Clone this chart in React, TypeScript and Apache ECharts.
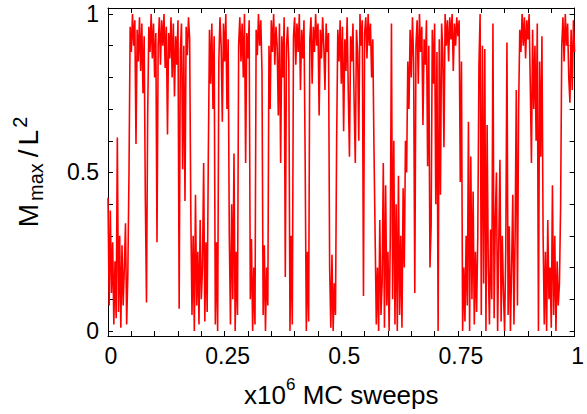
import React, { useEffect, useRef } from "react";
import * as echarts from "echarts";

// Sweep step between successive samples (in units of 10^6 MC sweeps)
const SWEEP_STEP = 0.0025;

// Mmax/L^2, one value per sample
const magnetization: number[] = [
  0.42, 0.08, 0.38, 0.12, 0.28, 0.02, 0.22, 0.04, 0.61, 0.06,
  0.3, 0.01, 0.27, 0.08, 0.2, 0.34, 0.02, 0.18, 0.5, 0.96,
  0.88, 1.0, 0.9, 0.98, 0.59, 0.95, 0.85, 0.99, 0.82, 0.97,
  0.75, 0.93, 0.42, 0.09, 0.68, 0.96, 0.88, 1.0, 0.86, 0.97,
  0.8, 0.94, 0.28, 0.9, 0.99, 0.84, 0.98, 0.9, 1.0, 0.83,
  0.96, 0.62, 0.94, 0.86, 0.99, 0.8, 0.97, 0.74, 0.93, 0.84,
  0.98, 0.07, 0.88, 0.97, 0.51, 0.9, 0.41, 0.96, 0.87, 0.99,
  0.92, 0.37, 0.05, 0.3, 0.0, 0.43, 0.08, 0.25, 0.02, 0.35,
  0.1, 0.2, 0.53, 0.03, 0.28, 0.06, 0.55, 0.95, 0.78, 0.97,
  0.7, 0.93, 0.02, 0.28, 0.0, 0.85, 0.99, 0.9, 0.66, 0.97,
  0.85, 1.0, 0.7, 0.92, 0.3, 0.02, 0.4, 0.1, 0.56, 0.0,
  0.25, 0.05, 0.9, 0.99, 0.85, 0.97, 0.8, 1.0, 0.53, 0.94,
  0.86, 0.98, 0.1, 0.29, 0.0, 0.2, 0.02, 0.95, 0.87, 1.0,
  0.9, 0.98, 0.82, 0.05, 0.27, 0.0, 0.2, 0.08, 0.9, 0.7,
  0.98, 0.88, 1.0, 0.84, 0.96, 0.9, 0.68, 0.97, 0.53, 0.93,
  0.8, 0.99, 0.17, 0.9, 0.96, 0.85, 0.0, 0.3, 0.02, 0.93,
  0.99, 0.84, 0.97, 0.88, 1.0, 0.76, 0.95, 0.86, 0.98, 0.55,
  0.0, 0.25, 0.03, 0.92, 0.99, 0.78, 0.96, 0.88, 1.0, 0.9,
  0.97, 0.68, 0.95, 0.86, 0.99, 0.9, 0.76, 0.97, 0.88, 0.94,
  0.2, 0.01, 0.24, 0.0, 0.15, 0.05, 0.6, 0.95, 0.85, 0.98,
  0.78, 0.96, 0.63, 0.92, 0.82, 0.99, 0.75, 0.55, 0.93, 0.85,
  0.97, 0.72, 0.53, 0.95, 0.88, 0.6, 1.0, 0.9, 0.98, 0.11,
  0.94, 0.99, 0.86, 1.0, 0.9, 0.97, 0.8, 0.92, 0.58, 0.3,
  0.02, 0.2, 0.0, 0.35, 0.05, 0.15, 0.53, 0.01, 0.46, 0.08,
  0.25, 0.0, 0.3, 0.97, 0.1, 0.6, 0.02, 0.4, 0.0, 0.49,
  0.05, 0.3, 0.01, 0.45, 0.2, 0.6, 0.5, 0.85, 0.7, 0.95,
  0.8, 0.99, 0.85, 0.12, 0.9, 0.98, 0.78, 1.0, 0.88, 0.96,
  0.65, 0.92, 0.84, 0.98, 0.52, 0.9, 0.2, 0.33, 0.95, 0.78,
  0.97, 0.4, 0.88, 0.0, 0.92, 0.43, 0.97, 0.88, 0.58, 1.0,
  0.9, 0.98, 0.85, 0.99, 0.92, 1.0, 0.82, 0.97, 0.9, 0.99,
  0.93, 0.98, 0.47, 0.85, 0.0, 0.2, 0.03, 0.3, 0.08, 0.66,
  0.0, 0.55, 0.1, 0.44, 0.02, 0.25, 0.06, 0.3, 0.84, 1.0,
  0.05, 0.9, 0.15, 0.89, 0.0, 0.65, 0.2, 0.02, 0.32, 0.1,
  0.97, 0.04, 0.35, 0.5, 0.0, 0.28, 0.54, 0.03, 0.3, 0.12,
  0.0, 0.26, 0.91, 0.05, 0.33, 0.0, 0.2, 0.43, 0.02, 0.3,
  0.76, 0.08, 0.7, 0.95, 0.88, 1.0, 0.9, 0.99, 0.86, 0.98,
  0.92, 1.0, 0.78, 0.53, 0.95, 0.7, 0.9, 0.6, 0.97, 0.0,
  0.85, 0.55, 0.93, 0.3, 0.02, 0.25, 0.0, 0.35, 0.1, 0.2,
  0.01, 0.46, 0.05, 0.3, 0.0, 0.22, 0.08, 0.15, 0.39, 0.9,
  0.99, 0.85, 1.0, 0.9, 0.97, 0.8, 0.72, 0.95, 0.76, 0.98,
  0.88,
];

const xTickLabels = [0, 0.25, 0.5, 0.75, 1];
const xTickMarks = [
  0, 0.05, 0.1, 0.15, 0.2, 0.25, 0.3, 0.35, 0.4, 0.45, 0.5,
  0.55, 0.6, 0.65, 0.7, 0.75, 0.8, 0.85, 0.9, 0.95, 1,
];
const yTickLabels = [0, 0.5, 1];
const yTickMarks = [0, 0.1, 0.2, 0.3, 0.4, 0.5, 0.6, 0.7, 0.8, 0.9, 1];

const FONT = "'Liberation Sans', Arial, Helvetica, sans-serif";

export default function App() {
  const ref = useRef<HTMLDivElement>(null);

  useEffect(() => {
    if (!ref.current) return;
    const chart = echarts.init(ref.current, undefined, { renderer: "svg" });

    const data = magnetization.map((v, i) => [i * SWEEP_STEP, v]);

    const lineStyle = { color: "#000", width: 1 };
    const tickStyle = { color: "#000", width: 1 };

    const yName = (size: number, valign: string, pad: number[]) => ({
      fontSize: size,
      fontFamily: FONT,
      color: "#000",
      lineHeight: 36,
      verticalAlign: valign,
      padding: pad,
    });

    chart.setOption({
      animation: false,
      backgroundColor: "#fff",
      grid: { left: 108, right: 5, top: 8, bottom: 78, containLabel: false },
      xAxis: [
        {
          type: "value",
          min: 0,
          max: 1,
          position: "bottom",
          axisLine: { show: true, onZero: false, lineStyle },
          axisTick: {
            show: true,
            inside: true,
            length: 5,
            customValues: xTickMarks,
            lineStyle: tickStyle,
          },
          axisLabel: {
            customValues: xTickLabels,
            showMinLabel: true,
            showMaxLabel: true,
            fontSize: 23,
            fontFamily: FONT,
            color: "#000",
            margin: 8,
            padding: [0, 0, 0, 6],
            formatter: (v: number) => String(v),
          },
          splitLine: { show: false },
          name: "{a|x10}{sup|6}{a| MC sweeps}",
          nameLocation: "middle",
          nameGap: 40,
          nameTextStyle: {
            fontFamily: FONT,
            color: "#000",
            rich: {
              a: { fontSize: 26, fontFamily: FONT, color: "#000", lineHeight: 32, verticalAlign: "bottom" },
              sup: { fontSize: 17, fontFamily: FONT, color: "#000", lineHeight: 32, verticalAlign: "top" },
            },
          },
        },
        {
          type: "value",
          min: 0,
          max: 1,
          position: "top",
          axisLine: { show: true, onZero: false, lineStyle },
          axisTick: {
            show: true,
            inside: true,
            length: 5,
            customValues: xTickMarks,
            lineStyle: tickStyle,
          },
          axisLabel: { show: false },
          splitLine: { show: false },
        },
      ],
      yAxis: [
        {
          type: "value",
          min: -0.016,
          max: 1.019,
          position: "left",
          axisLine: { show: true, onZero: false, lineStyle },
          axisTick: {
            show: true,
            inside: true,
            length: 5,
            customValues: yTickMarks,
            lineStyle: tickStyle,
          },
          axisLabel: {
            customValues: yTickLabels,
            showMinLabel: true,
            showMaxLabel: true,
            fontSize: 23,
            fontFamily: FONT,
            color: "#000",
            margin: 9,
            formatter: (v: number) => String(v),
          },
          splitLine: { show: false },
          name: "{m|M}{sub|max}{sl|/}{l|L}{sup|2}",
          nameLocation: "middle",
          nameRotate: 90,
          nameGap: 62,
          nameTextStyle: {
            fontFamily: FONT,
            color: "#000",
            rich: {
              m: yName(28, "middle", [0, 1, 0, 0]),
              sub: yName(20, "bottom", [0, 4, 0, 2]),
              sl: yName(28, "middle", [0, 2, 0, 2]),
              l: yName(28, "middle", [0, 1, 0, 2]),
              sup: yName(20, "top", [0, 0, 0, 1]),
            },
          },
        },
        {
          type: "value",
          min: -0.016,
          max: 1.019,
          position: "right",
          axisLine: { show: true, onZero: false, lineStyle },
          axisTick: {
            show: true,
            inside: true,
            length: 5,
            customValues: yTickMarks,
            lineStyle: tickStyle,
          },
          axisLabel: { show: false },
          splitLine: { show: false },
        },
      ],
      series: [
        {
          type: "line",
          xAxisIndex: 0,
          yAxisIndex: 0,
          data,
          showSymbol: false,
          symbol: "none",
          silent: true,
          lineStyle: { color: "#ff0000", width: 1.6 },
          z: 1,
        },
      ],
    });

    return () => {
      chart.dispose();
    };
  }, []);

  return (
    <div
      ref={ref}
      style={{ position: "fixed", left: 0, top: 0, width: 587, height: 414 }}
    />
  );
}
